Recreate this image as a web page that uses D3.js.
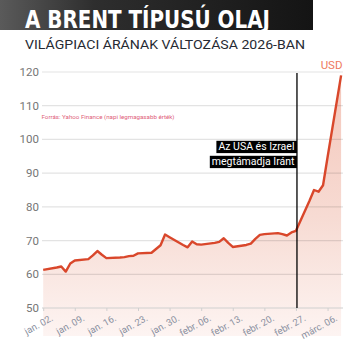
<!DOCTYPE html>
<html>
<head>
<meta charset="utf-8">
<script src="https://cdn.jsdelivr.net/npm/d3@7"></script>
<style>
	body { margin: 0; background: #fff; }
	svg { display: block; font-family: Roboto, "Noto Sans", sans-serif; }
</style>
</head>
<body>
<svg id="chart" width="352" height="343"></svg>
<script>
// napi legmagasabb árak (USD), Yahoo Finance
const dates = [
	"2026-01-02", "2026-01-05", "2026-01-06", "2026-01-07", "2026-01-08", "2026-01-09",
	"2026-01-12", "2026-01-13", "2026-01-14", "2026-01-15", "2026-01-16",
	"2026-01-19", "2026-01-20", "2026-01-21", "2026-01-22", "2026-01-23",
	"2026-01-26", "2026-01-27", "2026-01-28", "2026-01-29", "2026-01-30",
	"2026-02-02", "2026-02-03", "2026-02-04", "2026-02-05", "2026-02-06",
	"2026-02-09", "2026-02-10", "2026-02-11", "2026-02-12", "2026-02-13",
	"2026-02-16", "2026-02-17", "2026-02-18", "2026-02-19", "2026-02-20",
	"2026-02-23", "2026-02-24", "2026-02-25", "2026-02-26", "2026-02-27",
	"2026-03-02", "2026-03-03", "2026-03-04", "2026-03-05", "2026-03-06",
	"2026-03-09"
];
const prices = [
	61.3, 62.0, 62.3, 60.8, 63.2, 64.1,
	64.5, 65.6, 66.9, 65.8, 64.8,
	65.0, 65.1, 65.4, 65.5, 66.2,
	66.4, 67.5, 68.6, 71.8, 71.0,
	68.7, 68.0, 69.7, 68.9, 68.8,
	69.3, 69.6, 70.7, 69.3, 68.1,
	68.7, 69.1, 70.5, 71.7, 71.9,
	72.2, 71.9, 71.5, 72.4, 72.9,
	81.8, 85.0, 84.5, 86.4, 94.7,
	119.0
];
const tickDates = [
	"2026-01-02", "2026-01-09", "2026-01-16", "2026-01-23", "2026-01-30",
	"2026-02-06", "2026-02-13", "2026-02-20", "2026-02-27", "2026-03-06"
];
const tickLabels = [
	"jan. 02.", "jan. 09.", "jan. 16.", "jan. 23.", "jan. 30.",
	"febr. 06.", "febr. 13.", "febr. 20.", "febr. 27.", "márc. 06."
];
const yTicks = [50, 60, 70, 80, 90, 100, 110, 120];
const eventDate = "2026-02-27";
const eventLines = ["Az USA és Izrael", "megtámadja Iránt"];

const parse = d3.timeParse("%Y-%m-%d");
const data = dates.map((d, i) => ({ date: parse(d), value: prices[i] }));

const svg = d3.select("#chart");

// fejléc
const defs = svg.append("defs");
const bg = defs.append("linearGradient").attr("id", "bg");
bg.append("stop").attr("offset", "0%").attr("stop-color", "#5a5a5a");
bg.append("stop").attr("offset", "30%").attr("stop-color", "#2e2e2e");
bg.append("stop").attr("offset", "100%").attr("stop-color", "#141414");

svg.append("rect")
	.attr("x", 0).attr("y", 0)
	.attr("width", 313).attr("height", 30)
	.attr("fill", "url(#bg)");

svg.append("text")
	.attr("x", 25).attr("y", 27.5)
	.attr("font-family", "'Liberation Sans Narrow', 'DejaVu Sans Condensed', sans-serif")
	.attr("font-weight", "bold")
	.attr("font-size", 24.5)
	.attr("textLength", 245)
	.attr("lengthAdjust", "spacingAndGlyphs")
	.attr("fill", "#fff")
	.text("A BRENT TÍPUSÚ OLAJ");

svg.append("text")
	.attr("x", 25).attr("y", 48.5)
	.attr("font-size", 12.5)
	.attr("textLength", 280)
	.attr("lengthAdjust", "spacingAndGlyphs")
	.attr("fill", "#262a33")
	.text("VILÁGPIACI ÁRÁNAK VÁLTOZÁSA 2026-BAN");

// skálák
const x = d3.scaleTime()
	.domain(d3.extent(data, (d) => d.date))
	.range([43.2, 341.1]);
const y = d3.scaleLinear().domain([50, 120]).range([308, 72]);
const gridLeft = 42, gridRight = 343, fillBottom = 336;

const fillGrad = defs.append("linearGradient")
	.attr("id", "fill")
	.attr("gradientUnits", "userSpaceOnUse")
	.attr("x1", 0).attr("x2", 0)
	.attr("y1", y(120)).attr("y2", fillBottom);
fillGrad.append("stop").attr("offset", "0%").attr("stop-color", "#f4c6ba");
fillGrad.append("stop").attr("offset", "55%").attr("stop-color", "#f7dbd3");
fillGrad.append("stop").attr("offset", "100%").attr("stop-color", "#fdf4f2");

const area = d3.area()
	.x((d) => x(d.date))
	.y0(fillBottom)
	.y1((d) => y(d.value));

svg.append("path")
	.datum(data)
	.attr("d", area)
	.attr("fill", "url(#fill)");

// rácsvonalak
svg.append("g")
	.selectAll("line")
	.data(yTicks.slice(1))
	.join("line")
	.attr("x1", gridLeft).attr("x2", gridRight)
	.attr("y1", (d) => y(d)).attr("y2", (d) => y(d))
	.attr("stroke", "rgba(0,0,0,0.11)")
	.attr("stroke-width", 1.2);

svg.append("g")
	.selectAll("text")
	.data(yTicks)
	.join("text")
	.attr("x", 39).attr("y", (d) => y(d))
	.attr("dy", "0.35em")
	.attr("text-anchor", "end")
	.attr("font-size", 11.5)
	.attr("fill", "#767676")
	.text((d) => d);

// x tengely
const xAxis = svg.append("g")
	.attr("transform", `translate(0, ${y(50)})`)
	.call(
		d3.axisBottom(x)
			.tickValues(tickDates.map(parse))
			.tickSize(3)
			.tickFormat((d, i) => tickLabels[i])
	);
xAxis.select(".domain")
	.attr("d", `M${gridLeft},0H${gridRight}`)
	.attr("stroke", "#d0d0d0")
	.attr("stroke-width", 1.2);
xAxis.selectAll(".tick line").attr("stroke", "#d0d0d0");
xAxis.selectAll(".tick text")
	.attr("x", 0).attr("y", 0).attr("dy", 0)
	.attr("transform", "translate(10,12) rotate(-29)")
	.attr("text-anchor", "end")
	.attr("font-family", "Roboto, sans-serif")
	.attr("font-size", 9.5)
	.attr("fill", "#8a90a0");

// ár görbe
svg.append("path")
	.datum(data)
	.attr("d", d3.line().x((d) => x(d.date)).y((d) => y(d.value)))
	.attr("fill", "none")
	.attr("stroke", "#d9472b")
	.attr("stroke-width", 2.4)
	.attr("stroke-linejoin", "round");

// esemény
const ex = x(parse(eventDate)) + 1;
svg.append("line")
	.attr("x1", ex).attr("x2", ex)
	.attr("y1", y(120) + 1).attr("y2", y(50))
	.attr("stroke", "#000")
	.attr("stroke-width", 1.3);

const note = svg.append("g").attr("font-size", 10.5);
eventLines.forEach((t, i) => {
	const ty = 150 + i * 15;
	const txt = note.append("text")
		.attr("x", ex - 2.5).attr("y", ty)
		.attr("text-anchor", "end")
		.attr("fill", "#fff")
		.text(t);
	const bb = txt.node().getBBox();
	note.insert("rect", "text")
		.attr("x", bb.x - 2).attr("y", ty - 9.2)
		.attr("width", ex - bb.x + 2).attr("height", 12.3)
		.attr("fill", "#000");
});

svg.append("text")
	.attr("x", 342.5).attr("y", 69)
	.attr("text-anchor", "end")
	.attr("font-size", 11.5)
	.attr("fill", "#ee7b60")
	.text("USD");

svg.append("text")
	.attr("x", 41.5).attr("y", 119)
	.attr("font-size", 5.6)
	.attr("textLength", 133)
	.attr("lengthAdjust", "spacingAndGlyphs")
	.attr("fill", "#e0607a")
	.text("Forrás: Yahoo Finance (napi legmagasabb érték)");
</script>
</body>
</html>
